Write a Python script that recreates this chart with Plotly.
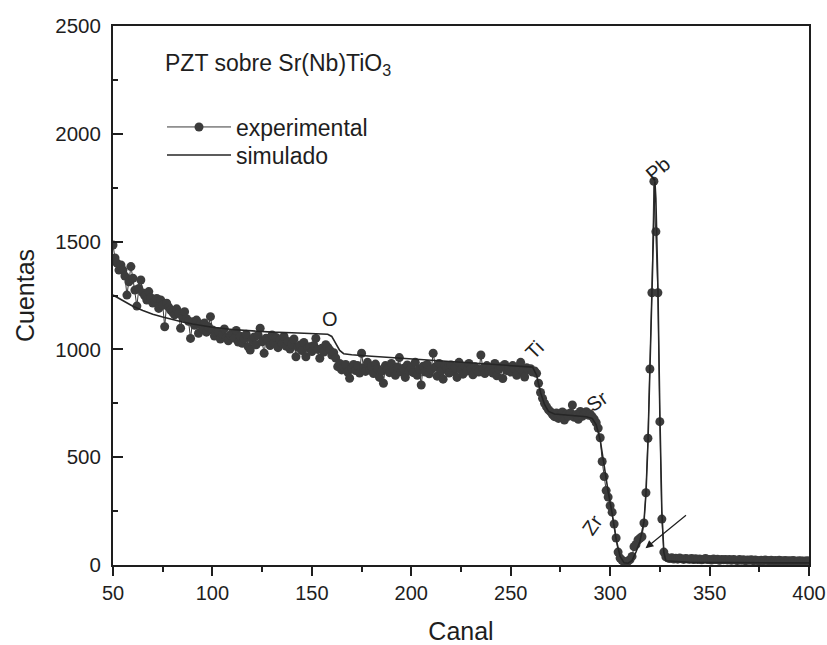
import plotly.graph_objects as go

# ---------------- data ----------------
canal_start = 50
cuentas_exp = [
    # 50-59
    1484, 1424, 1400, 1368, 1392, 1368, 1340, 1252, 1314, 1384,
    # 60-69
    1330, 1275, 1201, 1283, 1322, 1262, 1248, 1229, 1268, 1240,
    # 70-79
    1215, 1221, 1236, 1190, 1229, 1205, 1105, 1214, 1196, 1183,
    # 80-89
    1172, 1160, 1188, 1168, 1098, 1150, 1175, 1142, 1130, 1051,
    # 90-99
    1128, 1112, 1136, 1075, 1118, 1095, 1122, 1080, 1105, 1152,
    # 100-109
    1090, 1062, 1078, 1082, 1048, 1071, 1095, 1056, 1040, 1066,
    # 110-119
    1075, 1052, 1088, 1034, 1061, 1028, 1049, 1070, 1012, 997,
    # 120-129
    1045, 1058, 1021, 1066, 1098, 1035, 982, 1052, 1040, 1018,
    # 130-139
    1067, 1030, 1055, 1008, 1044, 1028, 1060, 1015, 1037, 1002,
    # 140-149
    1025, 1048, 966, 1010, 1020, 995, 1032, 966, 1008, 1012,
    # 150-159
    990, 1018, 1051, 1000, 959, 1005, 988, 1022, 1010, 997,
    # 160-169
    974, 985, 960, 920, 935, 905, 918, 930, 895, 866,
    # 170-179
    912, 930, 902, 925, 890, 982, 915, 898, 940, 905,
    # 180-189
    920, 888, 932, 910, 870, 900, 843, 925, 908, 892,
    # 190-199
    935, 905, 880, 918, 962, 895, 912, 870, 928, 900,
    # 200-209
    915, 892, 940, 880, 908, 835, 922, 895, 930, 887,
    # 210-219
    905, 982, 918, 876, 935, 900, 862, 925, 910, 890,
    # 220-229
    928, 898, 915, 870, 940, 905, 885, 922, 900, 935,
    # 230-239
    910, 882, 920, 905, 895, 974, 912, 888, 925, 900,
    # 240-249
    915, 890, 935, 878, 908, 920, 865, 930, 902, 915,
    # 250-259
    895, 925, 910, 880, 918, 940, 900, 872, 915, 905,
    # 260-269
    910, 895, 900, 889, 843, 800, 773, 750, 734, 720,
    # 270-279
    711, 698, 688, 705, 680, 695, 710, 672, 700, 690,
    # 280-289
    705, 742, 685, 698, 676, 712, 690, 702, 711, 695,
    # 290-299
    700, 688, 676, 660, 635, 590, 480, 410, 345, 315,
    # 300-309
    275, 245, 190, 125, 60, 32, 22, 15, 14, 18,
    # 310-319
    25, 40, 85, 95, 116, 124, 131, 195, 335, 588,
    # 320-329
    909, 1263, 1780, 1546, 1263, 665, 213, 60, 38, 33,
    # 330-339
    30, 34, 28, 31, 27, 32, 29, 26, 30, 28,
    # 340-349
    27, 30, 25, 29, 26, 28, 24, 27, 30, 25,
    # 350-359
    26, 23, 28, 25, 27, 22, 26, 24, 25, 23,
    # 360-369
    25, 22, 26, 23, 21, 25, 22, 24, 20, 23,
    # 370-379
    22, 24, 20, 23, 21, 19, 22, 20, 23, 21,
    # 380-389
    20, 22, 19, 21, 18, 22, 20, 19, 21, 18,
    # 390-400
    20, 18, 21, 19, 17, 20, 18, 19, 17, 20, 18,
]
canal_exp = list(range(canal_start, canal_start + len(cuentas_exp)))

canal_sim = [50, 55, 60, 65, 70, 75, 80, 85, 90, 95, 100, 110, 120, 130, 140,
             150, 155, 158, 160, 162, 164, 166, 170, 180, 190, 200, 210, 220,
             230, 240, 250, 258, 261, 263, 265, 267, 269, 272, 280, 288, 291,
             293, 295, 297, 299, 301, 303, 305, 307, 309, 311, 313, 315, 317,
             318, 319, 320, 321, 322, 322.5, 323, 324, 325, 326, 327, 328, 340,
             360, 380, 400]
cuentas_sim = [1252, 1225, 1200, 1180, 1163, 1150, 1138, 1127, 1118, 1110,
               1103, 1092, 1085, 1080, 1077, 1075, 1073, 1070, 1060, 1030,
               995, 980, 975, 968, 962, 955, 950, 945, 938, 932, 927, 922,
               918, 880, 800, 745, 712, 700, 693, 688, 680, 650, 580, 450,
               340, 240, 120, 40, 10, 8, 20, 60, 110, 200, 330, 560, 900,
               1300, 1700, 1780, 1700, 1300, 700, 250, 60, 20, 12, 10, 10, 10]

element_labels = ["O", "Ti", "Sr", "Zr", "Pb"]
element_x = [159, 262, 293.6, 291, 324]
element_y = [1141, 995, 760, 185, 1835]
element_angle = [0, -45, -35, -55, -40]

x_ticks = [50, 100, 150, 200, 250, 300, 350, 400]
y_ticks = [0, 500, 1000, 1500, 2000, 2500]

FONT = "Liberation Sans, Arial, sans-serif"
INK = "#1e1e1e"

fig = go.Figure()
fig.add_trace(go.Scatter(
    x=canal_exp, y=cuentas_exp, mode="lines+markers", name="experimental",
    line=dict(color="#3a3a3a", width=1),
    marker=dict(color="#3c3c3c", size=9, line=dict(width=0)),
    legend="legend",
))
fig.add_trace(go.Scatter(
    x=canal_sim, y=cuentas_sim, mode="lines", name="simulado",
    line=dict(color="#262626", width=1.6),
    legend="legend2",
))

for t, xx, yy, a in zip(element_labels, element_x, element_y, element_angle):
    fig.add_annotation(x=xx, y=yy, xref="x", yref="y", text=t, showarrow=False,
                       textangle=a, font=dict(family=FONT, size=20, color=INK))

fig.add_annotation(x=317.8, y=77.5, ax=338.9, ay=236.5, xref="x", yref="y",
                   axref="x", ayref="y", text="", showarrow=True,
                   arrowhead=2, arrowsize=1.3, arrowwidth=1.2, arrowcolor=INK)

fig.add_annotation(x=(163 - 113) / 696, y=(565 - 64) / 539, xref="paper", yref="paper",
                   xanchor="left", yanchor="middle", showarrow=False,
                   text="PZT sobre Sr(Nb)TiO<sub>3</sub>",
                   font=dict(family=FONT, size=23, color=INK))

leg_common = dict(xanchor="left", yanchor="middle", bgcolor="rgba(0,0,0,0)",
                  font=dict(family=FONT, size=23, color=INK), itemwidth=64)

fig.update_layout(
    width=827, height=645, autosize=False,
    margin=dict(l=113, r=18, t=26, b=80, autoexpand=False),
    paper_bgcolor="white", plot_bgcolor="white",
    font=dict(family=FONT, color=INK),
    showlegend=True,
    legend=dict(x=(162 - 113) / 696, y=(565 - 127) / 539, **leg_common),
    legend2=dict(x=(162 - 113) / 696, y=(565 - 155) / 539, **leg_common),
    xaxis=dict(
        range=[50, 400], tickvals=x_ticks, ticks="outside", ticklen=9,
        tickwidth=1.5, tickcolor=INK, showline=True, linewidth=2,
        linecolor=INK, mirror=True, showgrid=False, zeroline=False,
        automargin=False,
        tickfont=dict(family=FONT, size=20, color=INK),
        minor=dict(dtick=25, ticks="outside", ticklen=5, tickwidth=1.5,
                   tickcolor=INK, showgrid=False),
        title=dict(text="Canal", font=dict(family=FONT, size=25, color=INK),
                   standoff=20),
    ),
    yaxis=dict(
        range=[0, 2500], tickvals=y_ticks, ticks="inside", ticklen=10,
        tickwidth=1.5, tickcolor=INK, showline=True, linewidth=2,
        linecolor=INK, mirror=True, showgrid=False, zeroline=False,
        automargin=False,
        tickfont=dict(family=FONT, size=20.5, color=INK),
        ticklabelstandoff=6,
        minor=dict(dtick=250, ticks="inside", ticklen=5, tickwidth=1.5,
                   tickcolor=INK, showgrid=False),
        title=dict(text="Cuentas", font=dict(family=FONT, size=25, color=INK),
                   standoff=14),
    ),
)

fig.write_html("out.html")
